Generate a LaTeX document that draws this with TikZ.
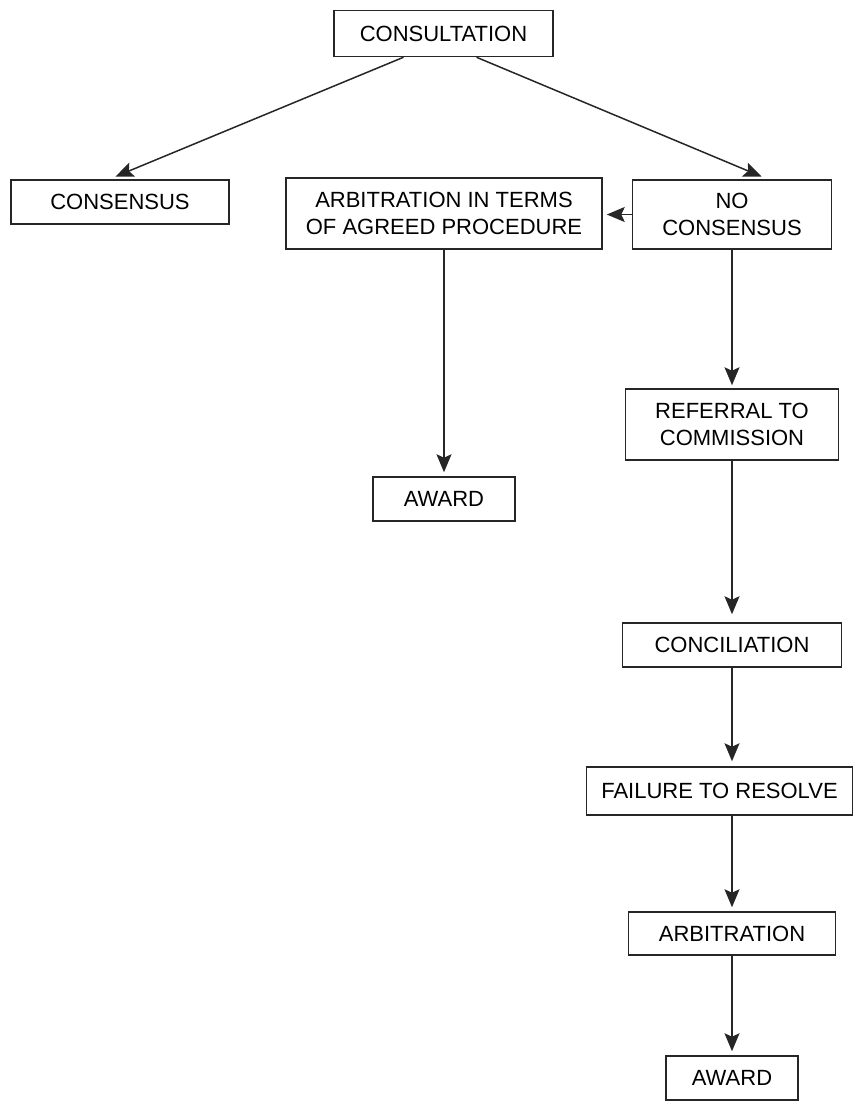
\documentclass[tikz,border=0pt]{standalone}
\usepackage{fontspec}
\setmainfont{Liberation Sans}
\usetikzlibrary{arrows.meta}
\tikzset{
  box/.style={draw=black!85, line width=1.5pt, inner sep=0pt, align=center,
    font=\fontsize{22}{26.5}\selectfont, text=black},
  arr/.style={draw=black!85, line width=1.5pt, -{Stealth[length=18pt,width=15pt,inset=3.5pt]}}
}
\begin{document}
\begin{tikzpicture}[x=1pt,y=-1pt]
\useasboundingbox (0,0) rectangle (854,1106);
\node[box, minimum width=219pt, minimum height=46pt] (cons) at (443.5,33.5) {CONSULTATION};
\node[box, minimum width=218pt, minimum height=44pt] (consensus) at (120,202) {CONSENSUS};
\node[box, minimum width=316pt, minimum height=71pt] (arbagreed) at (444,213.5) {ARBITRATION IN TERMS\\OF AGREED PROCEDURE};
\node[box, minimum width=199pt, minimum height=69pt] (nocons) at (732,214.5) {NO\\CONSENSUS};
\node[box, minimum width=213pt, minimum height=71pt] (referral) at (732,424.5) {REFERRAL TO\\COMMISSION};
\node[box, minimum width=142pt, minimum height=44pt] (awardA) at (444,499) {AWARD};
\node[box, minimum width=219pt, minimum height=44pt] (concil) at (732,645) {CONCILIATION};
\node[box, minimum width=266pt, minimum height=48pt] (failure) at (719.5,791) {FAILURE TO RESOLVE};
\node[box, minimum width=207pt, minimum height=43pt] (arbitr) at (732,933.5) {ARBITRATION};
\node[box, minimum width=132pt, minimum height=44pt] (awardB) at (732,1078) {AWARD};

\draw[arr, shorten >=7pt] ([xshift=-40pt]cons.south) -- ([xshift=-11pt]consensus.north);
\draw[arr, shorten >=7pt] ([xshift=33pt]cons.south) -- ([xshift=36pt]nocons.north);
\draw[arr, shorten >=4pt] (nocons.west) -- (arbagreed.east |- nocons.west);
\draw[arr, shorten >=4pt] (arbagreed.south) -- (awardA.north);
\draw[arr, shorten >=3pt] (nocons.south) -- (referral.north);
\draw[arr, shorten >=8pt] (referral.south) -- (concil.north);
\draw[arr, shorten >=5pt] (concil.south) -- (concil.south |- failure.north);
\draw[arr, shorten >=4pt] (concil.south |- failure.south) -- (arbitr.north);
\draw[arr, shorten >=4pt] (arbitr.south) -- (awardB.north);
\end{tikzpicture}
\end{document}
